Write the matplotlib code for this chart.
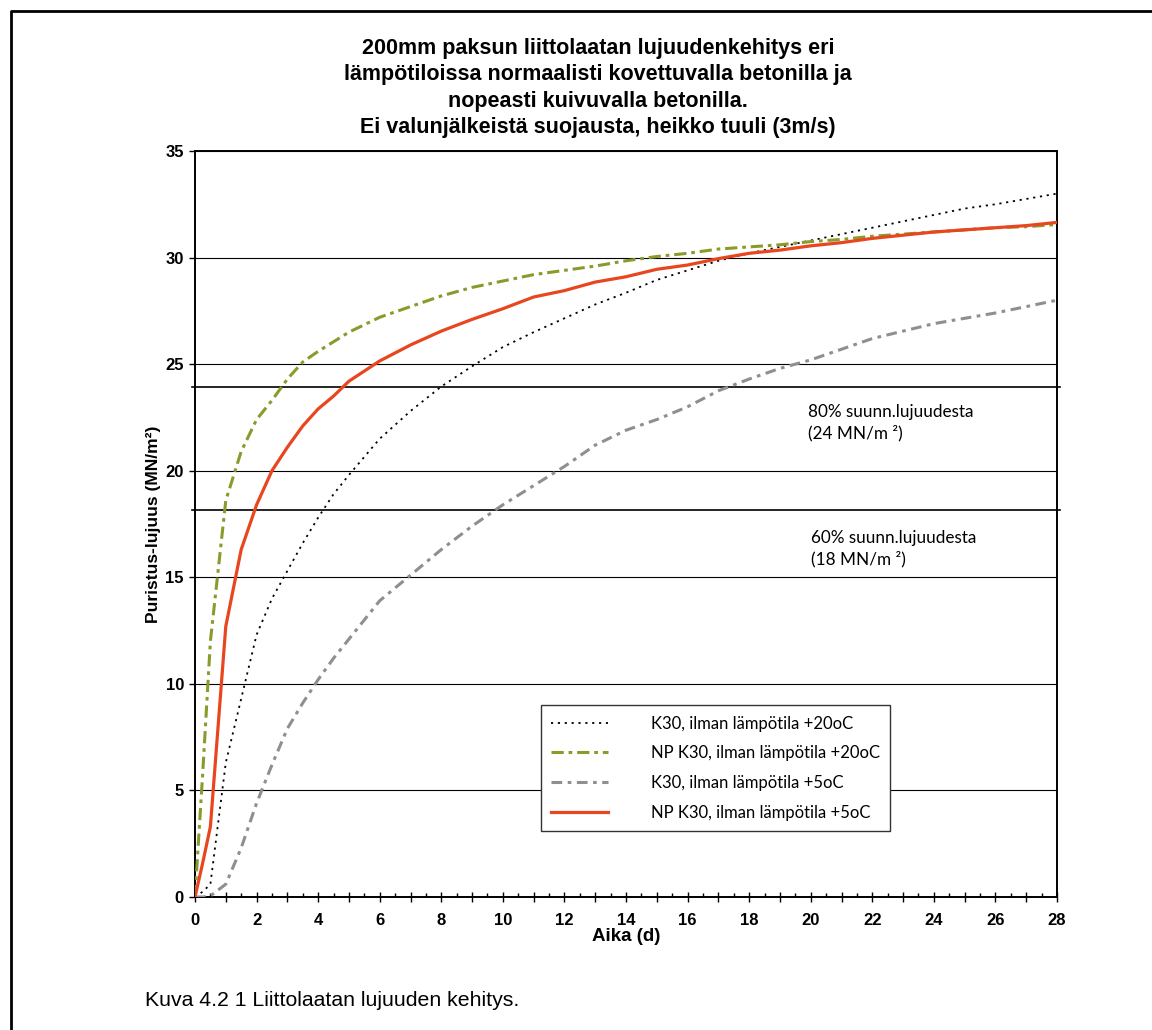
import matplotlib
matplotlib.use("Agg")

import matplotlib.pyplot as plt
from matplotlib.lines import Line2D
from matplotlib.ticker import MultipleLocator, FuncFormatter

# Aika (d)
aika = [0, 0.25, 0.5, 1, 1.5, 2, 2.5, 3, 3.5, 4, 4.5,
        5, 6, 7, 8, 9, 10, 11, 12, 13, 14, 15, 16,
        17, 18, 19, 20, 21, 22, 23, 24, 25, 26, 27, 28]

# Puristuslujuus (MN/m2)
k30_20 = [0, 0.25, 0.6, 6.3, 9.3, 12.3, 14.0, 15.3, 16.6, 17.8, 18.9,
          19.8, 21.5, 22.8, 23.95, 24.9, 25.8, 26.5, 27.15, 27.8, 28.35, 28.95, 29.4,
          29.85, 30.2, 30.5, 30.8, 31.1, 31.4, 31.7, 32.0, 32.3, 32.5, 32.75, 33.0]
np_k30_20 = [0, 5.8, 12.0, 18.6, 20.9, 22.4, 23.3, 24.3, 25.1, 25.6, 26.05,
             26.5, 27.2, 27.7, 28.2, 28.6, 28.9, 29.2, 29.4, 29.6, 29.85, 30.05, 30.2,
             30.4, 30.5, 30.6, 30.75, 30.85, 31.0, 31.1, 31.2, 31.3, 31.4, 31.45, 31.55]
k30_5 = [0, 0, 0.05, 0.6, 2.3, 4.4, 6.2, 7.9, 9.1, 10.2, 11.2,
         12.1, 13.9, 15.1, 16.3, 17.4, 18.4, 19.3, 20.2, 21.2, 21.9, 22.4, 23.0,
         23.75, 24.3, 24.8, 25.2, 25.7, 26.2, 26.55, 26.9, 27.15, 27.4, 27.7, 28.0]
np_k30_5 = [0, 1.6, 3.3, 12.7, 16.3, 18.4, 20.0, 21.1, 22.1, 22.9, 23.5,
            24.2, 25.15, 25.9, 26.55, 27.1, 27.6, 28.15, 28.45, 28.85, 29.1, 29.45, 29.65,
            29.95, 30.2, 30.35, 30.55, 30.7, 30.9, 31.05, 31.2, 31.3, 31.4, 31.5, 31.65]

nimet = ["K30, ilman lämpötila +20oC",
         "NP K30, ilman lämpötila +20oC",
         "K30, ilman lämpötila +5oC",
         "NP K30, ilman lämpötila +5oC"]

# suunnittelulujuuden rajat
raja80 = 23.95
raja60 = 18.15

otsikko = ("200mm paksun liittolaatan lujuudenkehitys eri\n"
           "lämpötiloissa normaalisti kovettuvalla betonilla ja\n"
           "nopeasti kuivuvalla betonilla.\n"
           "Ei valunjälkeistä suojausta, heikko tuuli (3m/s)")

plt.rcParams["font.family"] = ["Liberation Sans", "DejaVu Sans"]

W, H = 1152, 1030
fig = plt.figure(figsize=(W / 100, H / 100), dpi=100)
ax = fig.add_axes([195 / W, 1 - 897 / H, 862 / W, 746 / H])

ax.plot(aika, k30_20, color="black", lw=1.3, dashes=(1.2, 2.6), label=nimet[0], zorder=3)
ax.plot(aika, np_k30_20, color="#8a9b2b", lw=2.2, dashes=(4, 1.6, 1.2, 1.6), label=nimet[1], zorder=3)
ax.plot(aika, k30_5, color="#8f8f8f", lw=2.2, dashes=(3.5, 1.8, 1.2, 1.8), label=nimet[2], zorder=3)
ax.plot(aika, np_k30_5, color="#e8461e", lw=2.3, label=nimet[3], zorder=4)

ax.set_xlim(0, 28)
ax.set_ylim(0, 35)

ax.axhline(raja80, xmin=-0.004, xmax=1.003, color="black", lw=1.2, clip_on=False, zorder=2)
ax.axhline(raja60, xmin=-0.004, xmax=1.003, color="black", lw=1.2, clip_on=False, zorder=2)

ax.yaxis.set_major_locator(MultipleLocator(5))
ax.yaxis.grid(True, color="black", lw=0.8)
ax.xaxis.set_major_locator(MultipleLocator(1))
ax.xaxis.set_minor_locator(MultipleLocator(0.5))
ax.xaxis.set_major_formatter(FuncFormatter(lambda v, p: f"{int(v)}" if int(v) % 2 == 0 else ""))

ax.tick_params(axis="x", which="major", direction="inout", length=7, width=1, pad=8, labelsize=12)
ax.tick_params(axis="x", which="minor", direction="in", length=3, width=1)
ax.tick_params(axis="y", which="major", direction="out", length=4, width=1, pad=4, labelsize=12)
for lbl in ax.get_xticklabels() + ax.get_yticklabels():
    lbl.set_fontweight("bold")

for s in ax.spines.values():
    s.set_linewidth(1.4)

ax.set_xlabel("Aika (d)", fontsize=13.5, fontweight="bold", labelpad=0)
ax.set_ylabel("Puristus-lujuus (MN/m²)", fontsize=12.5, fontweight="bold", labelpad=3)

tfont = ["Lato", "DejaVu Sans"]
ax.text(19.9, 22.75, "80% suunn.lujuudesta", fontsize=12.3, family=tfont, va="center")
ax.text(19.9, 21.75, "(24 MN/m ²)", fontsize=12.3, family=tfont, va="center")
ax.text(20.0, 16.85, "60% suunn.lujuudesta", fontsize=12.3, family=tfont, va="center")
ax.text(20.0, 15.85, "(18 MN/m ²)", fontsize=12.3, family=tfont, va="center")

leg = ax.legend(loc="upper left", bbox_to_anchor=(0.401, 0.257), borderaxespad=0,
                fancybox=False, framealpha=1, edgecolor="#333333",
                prop={"family": tfont, "size": 12}, handlelength=3.4,
                handletextpad=2.6, labelspacing=0.82, borderpad=0.62)
leg.get_frame().set_linewidth(1.0)
leg.set_zorder(5)

fig.text(598 / W, 1 - 88 / H, otsikko, ha="center", va="center", fontsize=15.5,
         fontweight="bold", linespacing=1.34)
fig.text(145 / W, 1 - 1000 / H, "Kuva 4.2 1 Liittolaatan lujuuden kehitys.",
         ha="left", va="center", fontsize=15.3)

# kehys
fig.add_artist(Line2D([11 / W, 11 / W, 1.0], [0.0, 1 - 11 / H, 1 - 11 / H],
                      transform=fig.transFigure, color="black", lw=2.0))

fig.savefig("out.png", dpi=100)
